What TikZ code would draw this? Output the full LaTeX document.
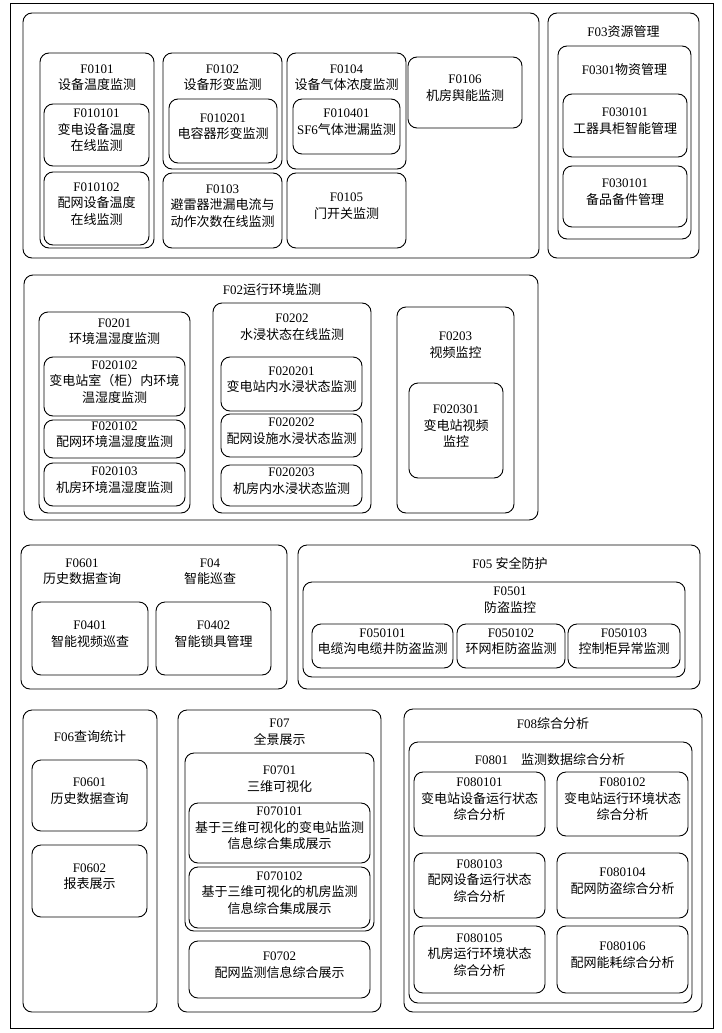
\documentclass[tikz,border=0pt]{standalone}
\usepackage{fontspec}
\setmainfont{Liberation Serif}
\newfontfamily\cjk{Noto Sans CJK SC}
\usetikzlibrary{fit}
\newcommand{\zh}[1]{{\cjk #1}}
\tikzset{
    panel/.style={draw, line width=0.9pt, rounded corners=9pt, inner sep=0pt},
    leaf/.style={panel, align=center, font=\fontsize{13}{16.5}\selectfont},
    head/.style={align=center, inner sep=0pt, font=\fontsize{13}{16.5}\selectfont},
    }

\begin{document}
\begin{tikzpicture}[x=1pt, y=-1pt]
    \useasboundingbox (0,0) rectangle (722,1033);
    \node[draw, line width=0.9pt, inner sep=0pt, fit={(10,3) (713,1028)}] (page) {};

    % F01
    \node[panel, fit={(23,13) (539,258)}] (f01) {};
    \node[panel, fit={(40,53) (154,248)}] (f0101) {};
    \node[head] (t0101) at (97,77.5) {F0101\\\zh{设备温度监测}};
    \node[leaf, fit={(44,104) (149,166)}] (f010101) {F010101\\\zh{变电设备温度}\\\zh{在线监测}};
    \node[leaf, fit={(44,172) (149,245)}] (f010102) {F010102\\\zh{配网设备温度}\\\zh{在线监测}};

    \node[panel, fit={(163,53) (282,169)}] (f0102) {};
    \node[head] (t0102) at (222.5,77.5) {F0102\\\zh{设备形变监测}};
    \node[leaf, fit={(169,99) (277,163)}] (f010201) {F010201\\\zh{电容器形变监测}};
    \node[leaf, fit={(163,173) (282,248)}] (f0103) {F0103\\\zh{避雷器泄漏电流与}\\\zh{动作次数在线监测}};

    \node[panel, fit={(287,53) (406,169)}] (f0104) {};
    \node[head] (t0104) at (346.5,77.5) {F0104\\\zh{设备气体浓度监测}};
    \node[leaf, fit={(293,99) (400,154)}] (f010401) {F010401\\SF6\zh{气体泄漏监测}};
    \node[leaf, fit={(287,173) (406,248)}] (f0105) {F0105\\\zh{门开关监测}};
    \node[leaf, fit={(408,57) (522,128)}] (f0106) {F0106\\\zh{机房舆能监测}};

    % F03
    \node[panel, fit={(548,13) (699,258)}] (f03) {};
    \node[head] (t03) at (623.5,32) {F03\zh{资源管理}};
    \node[panel, fit={(558,46) (691,239)}] (f0301) {};
    \node[head] (t0301) at (624.5,70) {F0301\zh{物资管理}};
    \node[leaf, fit={(563,94) (687,157)}] (f030101) {F030101\\\zh{工器具柜智能管理}};
    \node[leaf, fit={(563,166) (687,227)}] (f030102) {F030101\\\zh{备品备件管理}};

    % F02
    \node[panel, fit={(24,275) (538,520)}] (f02) {};
    \node[head] (t02) at (272,290) {F02\zh{运行环境监测}};
    \node[panel, fit={(39,312) (190,513)}] (f0201) {};
    \node[head] (t0201) at (114.5,331.5) {F0201\\\zh{环境温湿度监测}};
    \node[leaf, fit={(44,357) (185,416)}] (f020101) {F020102\\\zh{变电站室（柜）内环境}\\\zh{温湿度监测}};
    \node[leaf, fit={(44,420) (185,458)}] (f020102) {F020102\\\zh{配网环境温湿度监测}};
    \node[leaf, fit={(44,463) (185,506)}] (f020103) {F020103\\\zh{机房环境温湿度监测}};

    \node[panel, fit={(213,303) (371,513)}] (f0202) {};
    \node[head] (t0202) at (292,327) {F0202\\\zh{水浸状态在线监测}};
    \node[leaf, fit={(221,357) (362,411)}] (f020201) {F020201\\\zh{变电站内水浸状态监测}};
    \node[leaf, fit={(221,414) (362,457)}] (f020202) {F020202\\\zh{配网设施水浸状态监测}};
    \node[leaf, fit={(221,465) (362,506)}] (f020203) {F020203\\\zh{机房内水浸状态监测}};

    \node[panel, fit={(397,307) (514,513)}] (f0203) {};
    \node[head] (t0203) at (455.5,345) {F0203\\\zh{视频监控}};
    \node[leaf, fit={(409,383) (503,478)}] (f020301) {F020301\\\zh{变电站视频}\\\zh{监控}};

    % F04
    \node[panel, fit={(21,545) (287,689)}] (f04) {};
    \node[head] (t0601a) at (82,571.5) {F0601\\\zh{历史数据查询}};
    \node[head] (t04) at (210,571.5) {F04\\\zh{智能巡查}};
    \node[leaf, fit={(32,602) (148,675)}] (f0401) {F0401\\\zh{智能视频巡查}};
    \node[leaf, fit={(156,602) (271,675)}] (f0402) {F0402\\\zh{智能锁具管理}};

    % F05
    \node[panel, fit={(298,545) (700,689)}] (f05) {};
    \node[head] (t05) at (510,563) {F05 \zh{安全防护}};
    \node[panel, fit={(303,582) (685,677)}] (f0501) {};
    \node[head] (t0501) at (510,600) {F0501\\\zh{防盗监控}};
    \node[leaf, fit={(312,624) (453,668)}] (f050101) {F050101\\\zh{电缆沟电缆井防盗监测}};
    \node[leaf, fit={(457,624) (565,668)}] (f050102) {F050102\\\zh{环网柜防盗监测}};
    \node[leaf, fit={(568,624) (680,668)}] (f050103) {F050103\\\zh{控制柜异常监测}};

    % F06
    \node[panel, fit={(23,710) (157,1012)}] (f06) {};
    \node[head] (t06) at (90,737) {F06\zh{查询统计}};
    \node[leaf, fit={(32,760) (147,831)}] (f0601) {F0601\\\zh{历史数据查询}};
    \node[leaf, fit={(32,845) (147,917)}] (f0602) {F0602\\\zh{报表展示}};

    % F07
    \node[panel, fit={(178,710) (381,1012)}] (f07) {};
    \node[head] (t07) at (279.5,732) {F07\\\zh{全景展示}};
    \node[panel, fit={(185,753) (374,931)}] (f0701) {};
    \node[head] (t0701) at (279.5,779) {F0701\\\zh{三维可视化}};
    \node[leaf, fit={(189,803) (370,863)}] (f070101) {F070101\\\zh{基于三维可视化的变电站监测}\\\zh{信息综合集成展示}};
    \node[leaf, fit={(189,867) (370,928)}] (f070102) {F070102\\\zh{基于三维可视化的机房监测}\\\zh{信息综合集成展示}};
    \node[leaf, fit={(189,941) (370,998)}] (f0702) {F0702\\\zh{配网监测信息综合展示}};

    % F08
    \node[panel, fit={(404,709) (702,1012)}] (f08) {};
    \node[head] (t08) at (553,724) {F08\zh{综合分析}};
    \node[panel, fit={(409,742) (692,1003)}] (f0801) {};
    \node[head] (t0801) at (550,760) {F0801\quad\zh{监测数据综合分析}};
    \node[leaf, fit={(414,772) (545,836)}] (f080101) {F080101\\\zh{变电站设备运行状态}\\\zh{综合分析}};
    \node[leaf, fit={(557,772) (688,836)}] (f080102) {F080102\\\zh{变电站运行环境状态}\\\zh{综合分析}};
    \node[leaf, fit={(414,853) (545,918)}] (f080103) {F080103\\\zh{配网设备运行状态}\\\zh{综合分析}};
    \node[leaf, fit={(557,853) (688,918)}] (f080104) {F080104\\\zh{配网防盗综合分析}};
    \node[leaf, fit={(414,926) (545,993)}] (f080105) {F080105\\\zh{机房运行环境状态}\\\zh{综合分析}};
    \node[leaf, fit={(557,926) (688,993)}] (f080106) {F080106\\\zh{配网能耗综合分析}};
\end{tikzpicture}
\end{document}
